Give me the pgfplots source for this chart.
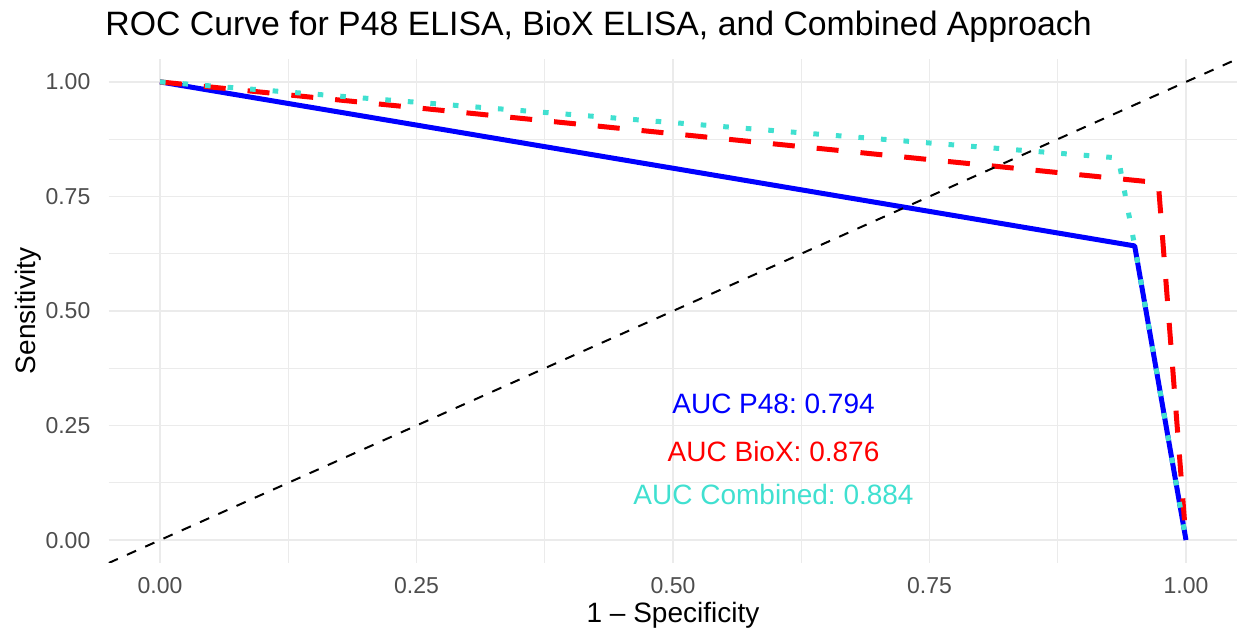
\documentclass[border=0pt]{standalone}
\usepackage{fontspec}
\setmainfont{Liberation Sans}
\usepackage{pgfplots}
\pgfplotsset{compat=1.18}
\definecolor{turq}{RGB}{64,224,208}
\definecolor{gridc}{RGB}{235,235,235}
\definecolor{tickc}{RGB}{77,77,77}
\frenchspacing

\begin{document}
\begin{tikzpicture}
\begin{axis}[
  scale only axis, width=564.3pt, height=252pt,
  xmin=-0.05, xmax=1.05, ymin=-0.05, ymax=1.05,
  xtick={0,0.25,0.5,0.75,1}, ytick={0,0.25,0.5,0.75,1},
  minor xtick={0.125,0.375,0.625,0.875}, minor ytick={0.125,0.375,0.625,0.875},
  /pgf/number format/.cd, fixed, fixed zerofill, precision=2, assume math mode=true, /pgfplots/.cd,
  axis line style={draw=none}, major tick length=0pt, minor tick length=0pt,
  grid=both,
  major grid style={draw=gridc, line width=0.9pt},
  minor grid style={draw=gridc, line width=0.45pt},
  tick label style={font=\fontsize{11.5}{13}\selectfont, text=tickc},
  xticklabel style={anchor=center, yshift=-11.5pt},
  yticklabel style={anchor=east, inner sep=0pt, xshift=-9pt},
  xlabel={1 – Specificity}, ylabel={Sensitivity},
  label style={font=\fontsize{14}{16}\selectfont},
  xlabel style={at={(axis description cs:0.5,-0.103)}, anchor=center},
  ylabel style={at={(axis description cs:-0.0715,0.5)}, anchor=center},
  title={ROC Curve for P48 ELISA, BioX ELISA, and Combined Approach},
  title style={at={(axis description cs:0,1)}, anchor=base west, inner sep=0pt,
    xshift=-1.85pt, yshift=5.5pt, font=\fontsize{16.9}{19}\selectfont},
  clip=true,
]
% P48
\addplot[blue, line width=2.5pt, line join=round] coordinates {(0,1) (0.950,0.642) (1,0)};
% BioX
\addplot[red, line width=2.5pt, dash pattern=on 11pt off 11pt] coordinates {(0,1) (0.973,0.780) (1,0)};
% Combined
\addplot[turq, line width=2.5pt, dash pattern=on 2.8pt off 8.5pt] coordinates {(0,1) (0.934,0.834) (0.950,0.642) (1,0)};
% chance line
\addplot[black, line width=1pt, dash pattern=on 5pt off 5pt] coordinates {(-0.05,-0.05) (1.05,1.05)};
\node[blue, font=\fontsize{14}{16}\selectfont] at (axis cs:0.598,0.297) {AUC P48: 0.794};
\node[red, font=\fontsize{14}{16}\selectfont] at (axis cs:0.598,0.194) {AUC BioX: 0.876};
\node[turq, font=\fontsize{14}{16}\selectfont] at (axis cs:0.598,0.100) {AUC Combined: 0.884};
\end{axis}
\pgfresetboundingbox
\path (-54.35pt,-36.5pt) rectangle (564.65pt,281.5pt);
\end{tikzpicture}
\end{document}
